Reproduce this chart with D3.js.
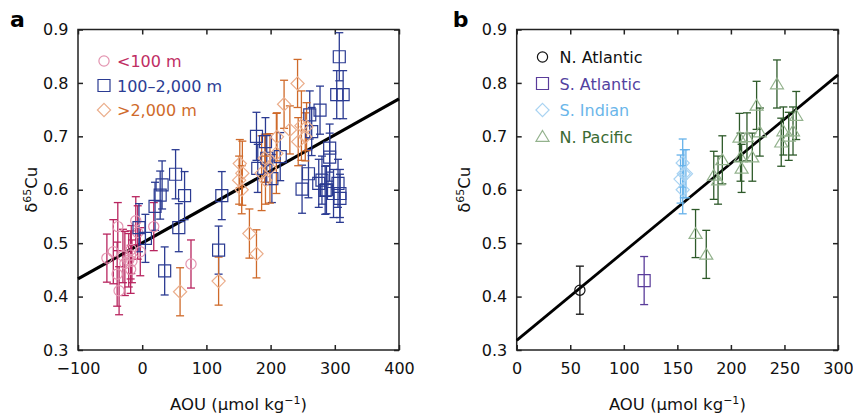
<!DOCTYPE html>
<html>
<head>
<meta charset="utf-8">
<script src="https://cdn.jsdelivr.net/npm/d3@7"></script>
<style>
  body { margin: 0; background: #fff; }
  svg text { font-family: "DejaVu Sans", Verdana, sans-serif; }
</style>
</head>
<body>
<svg id="chart" width="853" height="414"></svg>
<script>
// panel a : [AOU, d65Cu, error]
const shallow = [
  [-55, 0.472, 0.045], [-45, 0.484, 0.06], [-38, 0.531, 0.045], [-39, 0.442, 0.06],
  [-36, 0.411, 0.045], [-30, 0.476, 0.05], [-27, 0.462, 0.06], [-21, 0.468, 0.05],
  [-18, 0.451, 0.045], [-18, 0.478, 0.045], [-17, 0.488, 0.045], [-16, 0.466, 0.04],
  [-10, 0.542, 0.045], [-7, 0.52, 0.05], [-3, 0.484, 0.045], [18, 0.531, 0.045],
  [76, 0.461, 0.045]
];
const mid = [
  [-5, 0.529, 0.045], [5, 0.509, 0.045], [20, 0.569, 0.045], [28, 0.59, 0.045],
  [31, 0.609, 0.045], [35, 0.448, 0.045], [52, 0.629, 0.046], [57, 0.529, 0.045],
  [66, 0.589, 0.045], [119, 0.487, 0.045], [124, 0.589, 0.045], [178, 0.7, 0.045],
  [180, 0.64, 0.045], [192, 0.69, 0.045], [194, 0.659, 0.045], [202, 0.621, 0.045],
  [215, 0.662, 0.045], [249, 0.601, 0.045], [259, 0.63, 0.045], [261, 0.74, 0.045],
  [264, 0.709, 0.045], [277, 0.749, 0.045], [275, 0.612, 0.045], [280, 0.618, 0.045],
  [285, 0.599, 0.045], [287, 0.6, 0.045], [292, 0.678, 0.045], [292, 0.661, 0.045],
  [298, 0.593, 0.045], [303, 0.778, 0.045], [305, 0.612, 0.045], [307, 0.849, 0.045],
  [308, 0.593, 0.045], [308, 0.584, 0.045], [313, 0.778, 0.045]
];
const deep = [
  [59, 0.409, 0.045], [119, 0.429, 0.045], [152, 0.649, 0.045], [156, 0.631, 0.06],
  [151, 0.618, 0.045], [155, 0.6, 0.045], [167, 0.518, 0.046], [178, 0.48, 0.045],
  [186, 0.631, 0.07], [191, 0.659, 0.045], [192, 0.618, 0.045], [199, 0.64, 0.065],
  [209, 0.668, 0.075], [210, 0.699, 0.045], [221, 0.76, 0.045], [230, 0.712, 0.045],
  [242, 0.799, 0.045], [243, 0.69, 0.045], [248, 0.72, 0.065], [254, 0.699, 0.045],
  [256, 0.718, 0.045]
];
const fitA = [[-100, 0.433], [400, 0.77]];

// panel b
const nAtlantic = [[59, 0.412, 0.045]];
const sAtlantic = [[119, 0.43, 0.045]];
const sIndian = [
  [155, 0.65, 0.045], [156, 0.63, 0.045], [153, 0.62, 0.045], [158, 0.63, 0.045], [155, 0.6, 0.045]
];
const nPacific = [
  [167, 0.518, 0.045], [177, 0.479, 0.045], [184, 0.627, 0.045], [188, 0.618, 0.045],
  [192, 0.656, 0.045], [208, 0.698, 0.045], [209, 0.661, 0.045], [210, 0.64, 0.045],
  [215, 0.699, 0.045], [220, 0.661, 0.045], [224, 0.758, 0.045], [227, 0.708, 0.045],
  [243, 0.798, 0.045], [247, 0.689, 0.045], [249, 0.71, 0.045], [254, 0.7, 0.045],
  [258, 0.71, 0.045], [261, 0.739, 0.045]
];
const fitB = [[0, 0.318], [300, 0.815]];

const ticksA = [-100, 0, 100, 200, 300, 400];
const ticksB = [0, 50, 100, 150, 200, 250, 300];
const ticksY = [0.3, 0.4, 0.5, 0.6, 0.7, 0.8, 0.9];

const svg = d3.select("#chart");
const top_ = 29.5, bottom = 350;

const diamondPath = (s) => `M0,${-s}L${s},0L0,${s}L${-s},0Z`;
const shapes = {
  circle: d3.symbol().type(d3.symbolCircle).size(82)(),
  square: d3.symbol().type(d3.symbolSquare).size(144)(),
  diamond: diamondPath(6.6),
  triangle: "M0,-6L6.5,4.8L-6.5,4.8Z"
};

function drawPanel(p) {
  const x = d3.scaleLinear().domain(p.xDomain).range([p.left, p.right]);
  const y = d3.scaleLinear().domain([0.3, 0.9]).range([bottom, top_]);
  const g = svg.append("g");

  // frame + inward ticks
  g.append("g").attr("transform", `translate(0,${bottom})`)
    .call(d3.axisBottom(x).tickValues(p.xTicks).tickSize(-5).tickPadding(13)
      .tickFormat(d3.format("d")))
    .call(s => s.select(".domain").remove());
  g.append("g").attr("transform", `translate(0,${top_})`)
    .call(d3.axisTop(x).tickValues(p.xTicks).tickSize(-5).tickFormat(""))
    .call(s => s.select(".domain").remove());
  g.append("g").attr("transform", `translate(${p.left},0)`)
    .call(d3.axisLeft(y).tickValues(ticksY).tickSize(-5).tickPadding(9.5)
      .tickFormat(d3.format(".1f")))
    .call(s => s.select(".domain").remove());
  g.append("g").attr("transform", `translate(${p.right},0)`)
    .call(d3.axisRight(y).tickValues(ticksY).tickSize(-5).tickFormat(""))
    .call(s => s.select(".domain").remove());
  g.selectAll(".tick line").attr("stroke", "#222").attr("stroke-width", 1.5);
  g.selectAll(".tick text").attr("font-size", 16).attr("fill", "#111")
    .attr("font-family", "DejaVu Sans, Verdana, sans-serif");

  g.append("rect")
    .attr("x", p.left).attr("y", top_)
    .attr("width", p.right - p.left).attr("height", bottom - top_)
    .attr("fill", "none").attr("stroke", "#222").attr("stroke-width", 1.5);

  // fit line
  g.append("path")
    .datum(p.fit)
    .attr("d", d3.line().x(d => x(d[0])).y(d => y(d[1])))
    .attr("stroke", "#000").attr("stroke-width", p.fitWidth).attr("fill", "none");

  // series: error bars then markers
  p.series.forEach(s => {
    const eb = g.append("g").attr("stroke", s.bar).attr("stroke-width", 1.3).attr("fill", "none");
    s.data.forEach(d => {
      const cx = x(d[0]);
      eb.append("line").attr("x1", cx).attr("x2", cx).attr("y1", y(d[1] - d[2])).attr("y2", y(d[1] + d[2]));
      [d[1] - d[2], d[1] + d[2]].forEach(v => {
        eb.append("line").attr("x1", cx - 4).attr("x2", cx + 4).attr("y1", y(v)).attr("y2", y(v));
      });
    });
  });
  p.series.forEach(s => {
    g.append("g").selectAll("path").data(s.data).join("path")
      .attr("d", shapes[s.shape])
      .attr("transform", d => `translate(${x(d[0])},${y(d[1])})`)
      .attr("fill", "none").attr("stroke", s.mark).attr("stroke-width", 1.2);
  });

  // legend
  p.series.forEach((s, i) => {
    const ly = p.legendY + i * p.legendStep;
    g.append("path").attr("d", shapes[s.shape])
      .attr("transform", `translate(${p.legendX},${ly})`)
      .attr("fill", "none").attr("stroke", s.mark).attr("stroke-width", 1.2);
    g.append("text").attr("x", p.legendX + p.legendDx).attr("y", ly + 6)
      .attr("font-size", 16).attr("fill", s.text).text(s.name);
  });

  // axis labels
  const xl = g.append("text").attr("x", (p.left + p.right) / 2).attr("y", 409.5)
    .attr("text-anchor", "middle").attr("font-size", 16.5).attr("fill", "#111");
  xl.append("tspan").text("AOU (\u00b5mol kg");
  xl.append("tspan").attr("dy", -6).attr("font-size", 11).text("\u22121");
  xl.append("tspan").attr("dy", 6).text(")");

  const yl = g.append("text")
    .attr("transform", `translate(${p.left - p.yLabelOff},${(top_ + bottom) / 2}) rotate(-90)`)
    .attr("text-anchor", "middle").attr("font-size", 16.5).attr("fill", "#111");
  yl.append("tspan").text("\u03b4");
  yl.append("tspan").attr("dy", -6).attr("font-size", 11).text("65");
  yl.append("tspan").attr("dy", 6).text("Cu");

  g.append("text").attr("x", p.left - p.letterOff).attr("y", 27)
    .attr("font-size", 22).attr("font-weight", "bold").attr("fill", "#000").text(p.letter);
}

drawPanel({
  letter: "a", left: 78, right: 399, xDomain: [-100, 400], xTicks: ticksA,
  fit: fitA, fitWidth: 3.2, legendX: 104, legendY: 61, legendStep: 24.5, legendDx: 13,
  yLabelOff: 41.5, letterOff: 68,
  series: [
    { name: "<100 m", data: shallow, shape: "circle", bar: "#b8255f", mark: "#e394b0", text: "#bf2d63" },
    { name: "100\u20132,000 m", data: mid, shape: "square", bar: "#2b3b92", mark: "#2b3b92", text: "#2b3d94" },
    { name: ">2,000 m", data: deep, shape: "diamond", bar: "#cf6a2a", mark: "#ebae8c", text: "#cf6a2a" }
  ]
});

drawPanel({
  letter: "b", left: 516.7, right: 838, xDomain: [0, 300], xTicks: ticksB,
  fit: fitB, fitWidth: 2.8, legendX: 542.5, legendY: 57, legendStep: 26.5, legendDx: 17,
  yLabelOff: 47, letterOff: 64,
  series: [
    { name: "N. Atlantic", data: nAtlantic, shape: "circle", bar: "#111", mark: "#111", text: "#111" },
    { name: "S. Atlantic", data: sAtlantic, shape: "square", bar: "#5a3c9a", mark: "#5a3c9a", text: "#5342a0" },
    { name: "S. Indian", data: sIndian, shape: "diamond", bar: "#66b2ea", mark: "#a9d3f2", text: "#6ab6ea" },
    { name: "N. Pacific", data: nPacific, shape: "triangle", bar: "#2e5a2a", mark: "#93b28d", text: "#3b6b34" }
  ]
});
</script>
</body>
</html>
